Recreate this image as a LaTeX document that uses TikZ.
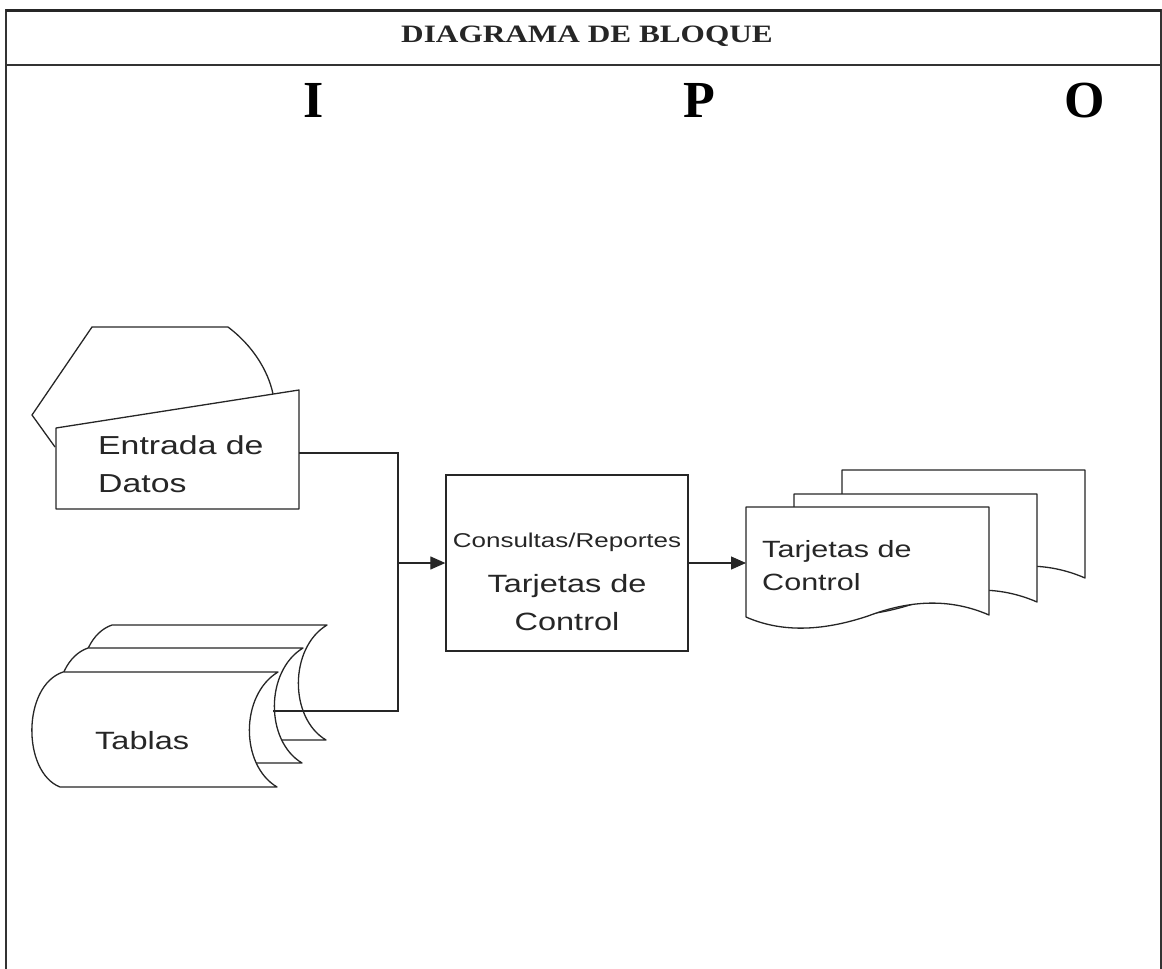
\documentclass[tikz,border=0pt]{standalone}
\usepackage{fontspec}
\setmainfont{Liberation Serif}
\newfontfamily\ttlfont[FakeStretch=1.25]{Liberation Serif}
\newfontfamily\wsans[FakeStretch=1.3]{Liberation Sans}
\usetikzlibrary{arrows.meta}
\begin{document}
\begin{tikzpicture}[x=1pt,y=-1pt,
  shp/.style={draw=black!85,line width=1.3pt,fill=white,line join=round},
  conn/.style={draw=black!85,line width=1.2pt},
  arr/.style={conn,-{Triangle[length=15pt,width=13pt]}},
  frame/.style={draw=black!80,line width=2pt},
  lbl/.style={inner sep=0pt,anchor=base west,text=black!85},
  clbl/.style={inner sep=0pt,anchor=base,text=black!85},
  ipo/.style={inner sep=0pt,anchor=base,font=\rmfamily\bfseries\fontsize{52}{56}\selectfont}]
\useasboundingbox (0,0) rectangle (1162,969);
% frame
\draw[frame] (6,975) -- (6,10) -- (1161,10) -- (1161,975);
\draw[draw=black!85,line width=3pt] (6,10) -- (1161,10);
\draw[frame] (6,65) -- (1161,65);
\node[clbl,font=\ttlfont\bfseries\fontsize{25}{30}\selectfont] (title) at (587,42) {DIAGRAMA DE BLOQUE};
\node[ipo] (I) at (314,117) {I};
\node[ipo] (P) at (699,117) {P};
\node[ipo] (O) at (1085,117) {O};
% online input (behind)
\draw[shp,fill=none] (55,447) -- (32,415) -- (92,327) -- (228,327) .. controls (252,345) and (268,370) .. (273,394);
% manual input
\draw[shp] (56,428) -- (299,390) -- (299,509) -- (56,509) -- cycle;
\node[lbl,font=\wsans\fontsize{26}{30}\selectfont] (ent1) at (98,454) {Entrada de};
\node[lbl,font=\wsans\fontsize{26}{30}\selectfont] (ent2) at (98,492) {Datos};
\coordinate (entR) at (299,453);
% tables (stored data, three layers)
\foreach \dx/\dy in {49/-47,25/-24,0/0}{
  \draw[shp,shift={(\dx,\dy)}] (63,672) -- (278,672)
     .. controls (240,695) and (240,765) .. (277,787) -- (60,787)
     .. controls (22,772) and (22,686) .. (63,672) -- cycle;
}
\node[lbl,font=\wsans\fontsize{25}{30}\selectfont] (tab) at (95,749) {Tablas};
\coordinate (tabR) at (273,711);
% process
\node[draw=black!85,line width=1.3pt,minimum width=242pt,minimum height=176pt,inner sep=0pt] (proc) at (567,563) {};
\node[clbl,font=\wsans\fontsize{20}{24}\selectfont] (p1) at (567,547) {Consultas/Reportes};
\node[clbl,font=\wsans\fontsize{25}{30}\selectfont] (p2) at (567,592) {Tarjetas de};
\node[clbl,font=\wsans\fontsize{25}{30}\selectfont] (p3) at (567,630) {Control};
% documents (three layers)
\foreach \dx/\dy in {96/-37,48/-13,0/0}{
  \draw[shp,shift={(\dx,\dy)}] (746,507) -- (989,507) -- (989,615)
     .. controls (950,598) and (910,600) .. (868,616)
     .. controls (820,632) and (780,632) .. (746,617) -- cycle;
}
\node[lbl,font=\wsans\fontsize{23.5}{28}\selectfont] (d1) at (762,557) {Tarjetas de};
\node[lbl,font=\wsans\fontsize{23.5}{28}\selectfont] (d2) at (762,590) {Control};
\coordinate (docL) at (746,563);
% connectors
\coordinate (bus) at (398,563);
\draw[conn] (entR) -| (bus) |- (tabR);
\draw[arr] (bus) -- (proc.west);
\draw[arr] (proc.east) -- (docL);
\end{tikzpicture}
\end{document}
